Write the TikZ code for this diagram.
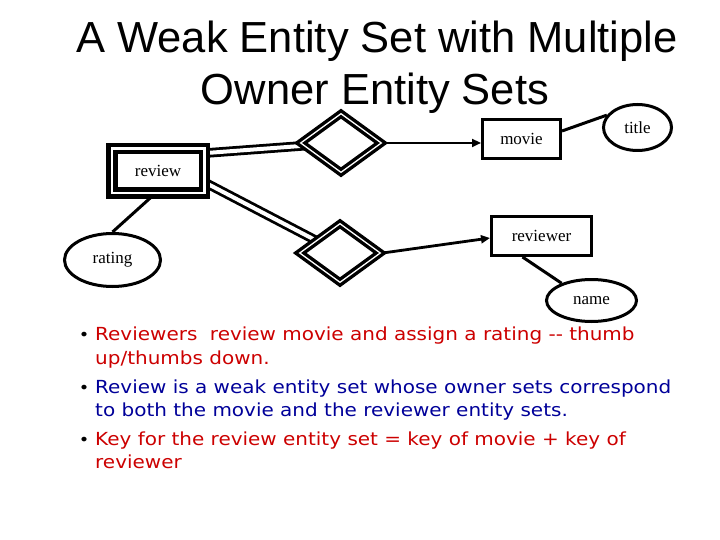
\documentclass[tikz,border=0pt]{standalone}
\usepackage{fontspec}
\setmainfont{Liberation Serif}
\newfontfamily\titlefont{Liberation Sans}
\newfontfamily\bulfont[FakeStretch=1.11]{DejaVu Sans}
\usetikzlibrary{shapes.geometric,arrows.meta,backgrounds}
\definecolor{bred}{RGB}{204,0,0}
\definecolor{bblue}{RGB}{0,0,153}
\begin{document}
\begin{tikzpicture}[x=1pt,y=-1pt,
  lbl/.style={font=\fontsize{17}{17}\selectfont},
  entity/.style={lbl,draw,line width=3pt,fill=white,inner sep=0pt,rectangle},
  weakentity/.style={lbl,draw,double,line width=4.5pt,double distance=2.5pt,fill=white,inner sep=0pt,rectangle},
  attr/.style={lbl,draw,line width=3pt,fill=white,inner sep=0pt,ellipse},
  idrel/.style={draw,double,line width=3.4pt,double distance=1.3pt,fill=white,inner sep=0pt,diamond},
  conn/.style={line width=3pt},
  dconn/.style={double,line width=2.8pt,double distance=4pt},
  arr/.style={line width=2.8pt,-{Triangle[length=9pt,width=8pt]}},
  titletext/.style={font=\titlefont\fontsize{43.5}{43.5}\selectfont,inner sep=0pt,anchor=base},
  bullettext/.style={font=\bulfont\fontsize{18}{18}\selectfont,inner sep=0pt,anchor=base west},
  bulletdot/.style={font=\bulfont\fontsize{16}{16}\selectfont,inner sep=0pt,anchor=base}]
\useasboundingbox (0,0) rectangle (720,540);

\node[titletext] (t1) at (377,53) {A Weak Entity Set with Multiple};
\node[titletext] (t2) at (375,105) {Owner Entity Sets};

\node[entity,minimum width=78pt,minimum height=39pt] (movie) at (521.5,139) {movie};
\node[entity,minimum width=100pt,minimum height=39pt] (reviewer) at (541.5,236) {reviewer};
\node[weakentity,minimum width=92.5pt,minimum height=44.5pt] (review) at (158,171) {review};
\node[attr,minimum width=68pt,minimum height=46pt] (title) at (637.5,127.5) {title};
\node[attr,minimum width=90pt,minimum height=42pt] (name) at (591.5,300.5) {name};
\node[attr,minimum width=96pt,minimum height=53pt] (rating) at (112.5,260) {rating};
\node[idrel,minimum width=82pt,minimum height=60pt] (d1) at (341,143) {};
\node[idrel,minimum width=82pt,minimum height=60pt] (d2) at (340,253) {};

\begin{scope}[on background layer]
  \draw[dconn] ([yshift=18pt]review.east) -- (d1.center);
  \draw[dconn] ([yshift=13pt]review.center) -- (d2.center);
  \draw[conn] ([yshift=8pt]movie.east) -- (title.158);
  \draw[conn] ([xshift=-5pt]review.south) -- (rating.north);
  \draw[conn] ([xshift=-19pt]reviewer.south) -- (name.150);
\end{scope}

\draw[arr] (d1.east) -- (d1.east -| movie.west);
\draw[arr] (d2.east) -- ([yshift=-2pt]reviewer.west);

\node[bulletdot] (b1) at (84,340) {•};
\node[bullettext,text=bred] (l1) at (95,340) {Reviewers\hspace{0.7em}review movie and assign a rating \mbox{-}\mbox{-} thumb};
\node[bullettext,text=bred] (l2) at (95,364) {up/thumbs down.};
\node[bulletdot] (b2) at (84,393) {•};
\node[bullettext,text=bblue] (l3) at (95,393) {Review is a weak entity set whose owner sets correspond};
\node[bullettext,text=bblue] (l4) at (95,416) {to both the movie and the reviewer entity sets.};
\node[bulletdot] (b3) at (84,445) {•};
\node[bullettext,text=bred] (l5) at (95,445) {Key for the review entity set = key of movie + key of};
\node[bullettext,text=bred] (l6) at (95,468) {reviewer};
\end{tikzpicture}
\end{document}
